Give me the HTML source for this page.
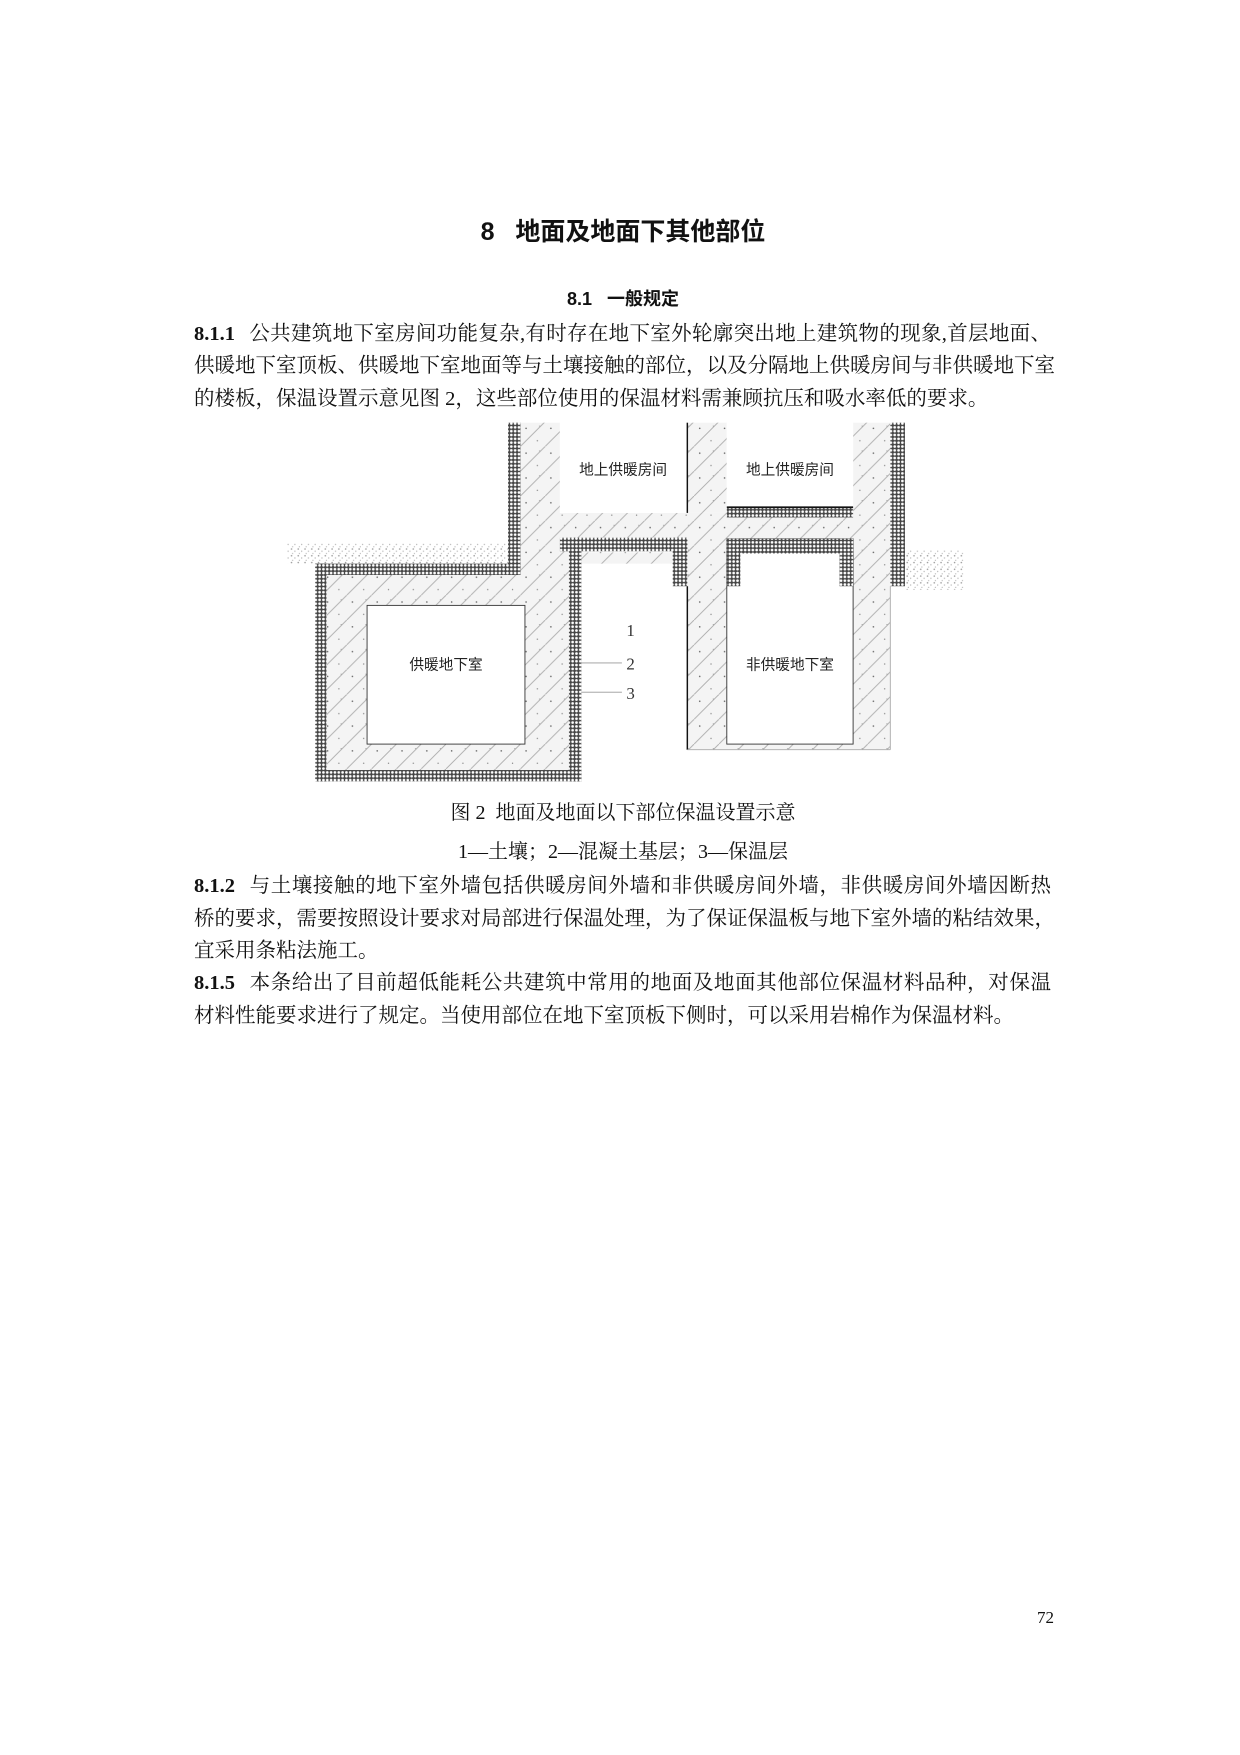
<!DOCTYPE html>
<html><head><meta charset="utf-8">
<style>
html,body{margin:0;padding:0;background:#fff;}
body{width:1240px;height:1755px;position:relative;overflow:hidden;font-family:"Liberation Serif","Noto Serif CJK SC","Noto Sans CJK SC",serif;color:#111;}
.t{position:absolute;white-space:nowrap;}
.p{position:absolute;left:194px;width:857px;font-size:20.5px;line-height:32.5px;text-align:justify;text-align-last:justify;white-space:nowrap;}
b{font-family:"Liberation Serif",serif;font-weight:bold;margin-right:14px;}
</style></head><body>
<div class="t" style="left:0;width:1246px;text-align:center;top:212px;font-size:25px;font-weight:bold;font-family:'Liberation Sans','Noto Sans CJK SC',sans-serif;">8&nbsp;&nbsp;&nbsp;地面及地面下其他部位</div>
<div class="t" style="left:0;width:1246px;text-align:center;top:285px;font-size:18px;font-weight:bold;font-family:'Liberation Sans','Noto Sans CJK SC',sans-serif;">8.1&nbsp;&nbsp;&nbsp;一般规定</div>
<div class="p" style="top:318px;"><b>8.1.1</b>公共建筑地下室房间功能复杂,有时存在地下室外轮廓突出地上建筑物的现象,首层地面、</div>
<div class="p" style="top:350px;">供暖地下室顶板、供暖地下室地面等与土壤接触的部位，以及分隔地上供暖房间与非供暖地下室</div>
<div class="p" style="top:383px;text-align-last:left;">的楼板，保温设置示意见图 2，这些部位使用的保温材料需兼顾抗压和吸水率低的要求。</div>

<svg style="position:absolute;left:287px;top:419px;" width="680" height="366" viewBox="255 372 603 324">
<defs>
<pattern id="con" width="22" height="22" patternUnits="userSpaceOnUse">
<rect width="22" height="22" fill="#f4f4f4"/>
<line x1="0" y1="22" x2="22" y2="0" stroke="#aaa" stroke-width="0.8"/>
<circle cx="5" cy="6" r="0.7" fill="#666"/><circle cx="15" cy="17" r="0.6" fill="#888"/><circle cx="17" cy="4" r="0.5" fill="#999"/>
</pattern>
<pattern id="ins" width="3.4" height="3.4" patternUnits="userSpaceOnUse">
<rect width="3.4" height="3.4" fill="#444"/>
<circle cx="1.7" cy="1.7" r="1.2" fill="#fff"/>
</pattern>
<pattern id="soil" width="6" height="6" patternUnits="userSpaceOnUse">
<rect width="6" height="6" fill="#fff"/>
<circle cx="1" cy="1" r="0.7" fill="#999"/><circle cx="4" cy="3" r="0.6" fill="#bbb"/><circle cx="2" cy="5" r="0.5" fill="#aaa"/>
</pattern>
</defs>
<rect x="255" y="482" width="196" height="18" fill="url(#soil)"/>
<rect x="803" y="488" width="52" height="35" fill="url(#soil)"/>
<rect x="462" y="375" width="35" height="135" fill="url(#con)"/>
<rect x="290" y="500" width="215" height="183" fill="url(#con)"/>
<rect x="462" y="455" width="328" height="22" fill="url(#con)"/>
<rect x="497" y="475" width="8" height="210" fill="url(#con)"/>
<rect x="610" y="375" width="35" height="80" fill="url(#con)"/>
<rect x="757" y="375" width="33" height="100" fill="url(#con)"/>
<rect x="610" y="475" width="180" height="190" fill="url(#con)"/>
<rect x="516" y="490" width="94" height="10" fill="url(#con)"/>
<rect x="497" y="375" width="113" height="80" fill="#fff"/>
<rect x="645" y="375" width="112" height="75" fill="#fff"/>
<rect x="326" y="537" width="140" height="123" fill="#fff" stroke="#333" stroke-width="0.8"/>
<rect x="645" y="478" width="112" height="182" fill="#fff" stroke="#333" stroke-width="0.8"/>
<rect x="451" y="375" width="11" height="135" fill="url(#ins)"/>
<rect x="280" y="500" width="182" height="10" fill="url(#ins)"/>
<rect x="280" y="500" width="10" height="193" fill="url(#ins)"/>
<rect x="280" y="683" width="236" height="10" fill="url(#ins)"/>
<rect x="505" y="477" width="11" height="216" fill="url(#ins)"/>
<rect x="497" y="477" width="113" height="12" fill="url(#ins)"/>
<rect x="597" y="477" width="13" height="43" fill="url(#ins)"/>
<rect x="645" y="450" width="112" height="9" fill="url(#ins)"/>
<line x1="645" y1="450" x2="757" y2="450" stroke="#111" stroke-width="1.5"/>
<rect x="790" y="375" width="13" height="145" fill="url(#ins)"/>
<rect x="645" y="478" width="112" height="13" fill="url(#ins)"/>
<rect x="645" y="478" width="12" height="42" fill="url(#ins)"/>
<rect x="745" y="478" width="12" height="42" fill="url(#ins)"/>
<line x1="610" y1="375" x2="610" y2="455" stroke="#111" stroke-width="1.3"/>
<line x1="610" y1="520" x2="610" y2="665" stroke="#111" stroke-width="1.3"/>
<line x1="610" y1="665" x2="790" y2="665" stroke="#aaa" stroke-width="0.8"/>
<line x1="790" y1="520" x2="790" y2="665" stroke="#aaa" stroke-width="0.8"/>
<line x1="516" y1="588" x2="552" y2="588" stroke="#999" stroke-width="0.8"/>
<line x1="516" y1="614" x2="552" y2="614" stroke="#999" stroke-width="0.8"/>
<g font-family="Liberation Serif,serif" font-size="15" fill="#333">
<text x="556" y="564">1</text><text x="556" y="594">2</text><text x="556" y="620">3</text>
</g>
<g font-family="Liberation Sans,Noto Sans CJK SC,sans-serif" font-size="13" fill="#222">
<text x="553" y="421" text-anchor="middle">地上供暖房间</text>
<text x="701" y="421" text-anchor="middle">地上供暖房间</text>
<text x="396" y="594" text-anchor="middle">供暖地下室</text>
<text x="701" y="594" text-anchor="middle">非供暖地下室</text>
</g>
</svg>

<div class="t" style="left:0;width:1246px;text-align:center;top:796px;font-size:20px;">图 2&nbsp; 地面及地面以下部位保温设置示意</div>
<div class="t" style="left:0;width:1246px;text-align:center;top:835px;font-size:20px;">1—土壤；2—混凝土基层；3—保温层</div>
<div class="p" style="top:870px;"><b>8.1.2</b>与土壤接触的地下室外墙包括供暖房间外墙和非供暖房间外墙，非供暖房间外墙因断热</div>
<div class="p" style="top:903px;">桥的要求，需要按照设计要求对局部进行保温处理，为了保证保温板与地下室外墙的粘结效果，</div>
<div class="p" style="top:935px;text-align-last:left;">宜采用条粘法施工。</div>
<div class="p" style="top:967px;"><b>8.1.5</b>本条给出了目前超低能耗公共建筑中常用的地面及地面其他部位保温材料品种，对保温</div>
<div class="p" style="top:1000px;text-align-last:left;">材料性能要求进行了规定。当使用部位在地下室顶板下侧时，可以采用岩棉作为保温材料。</div>
<div class="t" style="left:1037px;top:1608px;font-size:17px;">72</div>
</body></html>
